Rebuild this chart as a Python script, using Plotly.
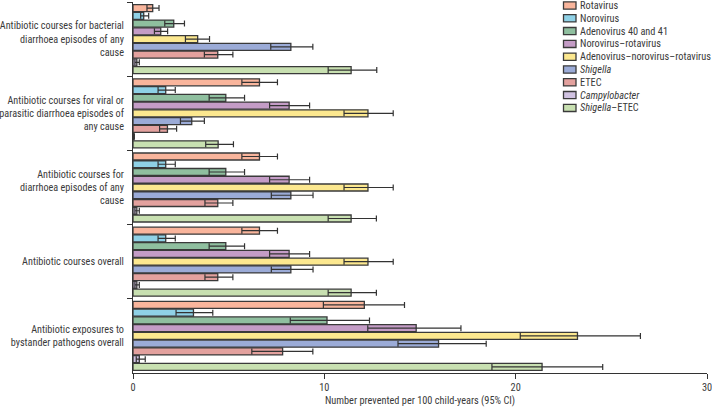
import plotly.graph_objects as go

# outcomes (top to bottom)
outcomes = [
    "Antibiotic courses for bacterial<br>diarrhoea episodes of any<br>cause",
    "Antibiotic courses for viral or<br>parasitic diarrhoea episodes of<br>any cause",
    "Antibiotic courses for<br>diarrhoea episodes of any<br>cause",
    "Antibiotic courses overall",
    "Antibiotic exposures to<br>bystander pathogens overall",
]

pathogens = [
    "Rotavirus", "Norovirus", "Adenovirus 40 and 41", "Norovirus–rotavirus",
    "Adenovirus–norovirus–rotavirus", "<i>Shigella</i>", "ETEC",
    "<i>Campylobacter</i>", "<i>Shigella</i>–ETEC",
]

colors = ["#f9b59c", "#8fd1e6", "#8fbf9f", "#c49cc6", "#fce88f",
          "#9babd7", "#e3a19e", "#d0c2e1", "#c8e0b1"]

# point estimates per pathogen, one value per outcome
est = {
    "Rotavirus":      [1.03, 6.61, 6.61, 6.61, 12.09],
    "Norovirus":      [0.56, 1.71, 1.71, 1.71, 3.16],
    "Adeno":          [2.13, 4.85, 4.85, 4.85, 10.14],
    "NoroRota":       [1.45, 8.16, 8.16, 8.16, 14.80],
    "AdenoNoroRota":  [3.38, 12.28, 12.28, 12.28, 23.23],
    "Shigella":       [8.25, 3.07, 8.25, 8.25, 15.97],
    "ETEC":           [4.43, 1.80, 4.43, 4.43, 7.82],
    "Campylobacter":  [0.20, 0.05, 0.20, 0.20, 0.33],
    "ShigellaETEC":   [11.40, 4.45, 11.40, 11.40, 21.38],
}
lower = {
    "Rotavirus":      [0.73, 5.69, 5.69, 5.69, 9.95],
    "Norovirus":      [0.40, 1.31, 1.31, 1.31, 2.25],
    "Adeno":          [1.66, 3.98, 3.98, 3.98, 8.22],
    "NoroRota":       [1.12, 7.14, 7.14, 7.14, 12.27],
    "AdenoNoroRota":  [2.74, 11.03, 11.03, 11.03, 20.24],
    "Shigella":       [7.20, 2.48, 7.23, 7.23, 13.85],
    "ETEC":           [3.73, 1.39, 3.76, 3.76, 6.21],
    "Campylobacter":  [0.10, 0.03, 0.10, 0.10, 0.17],
    "ShigellaETEC":   [10.20, 3.80, 10.20, 10.20, 18.76],
}
upper = {
    "Rotavirus":      [1.36, 7.55, 7.55, 7.55, 14.19],
    "Norovirus":      [0.82, 2.21, 2.21, 2.21, 4.17],
    "Adeno":          [2.69, 5.83, 5.83, 5.83, 12.36],
    "NoroRota":       [1.81, 9.23, 9.23, 9.23, 17.14],
    "AdenoNoroRota":  [4.00, 13.60, 13.60, 13.60, 26.52],
    "Shigella":       [9.40, 3.73, 9.41, 9.41, 18.46],
    "ETEC":           [5.22, 2.28, 5.22, 5.22, 9.40],
    "Campylobacter":  [0.33, 0.07, 0.33, 0.33, 0.64],
    "ShigellaETEC":   [12.74, 5.25, 12.72, 12.72, 24.55],
}

FONT = "Liberation Sans Narrow, Arial Narrow, Roboto Condensed, sans-serif"
W, H = 712, 409
ML, MR, MT, MB = 133, 5, 2, 36
PW, PH = W - ML - MR, H - MT - MB


def px(x):  # page px -> paper x
    return (x - ML) / PW


def py(y):  # page px -> paper y
    return 1 - (y - MT) / PH


fig = go.Figure()
for name, key, col in zip(pathogens, est.keys(), colors):
    v = est[key]
    fig.add_trace(go.Bar(
        y=outcomes,
        x=v,
        name=name,
        orientation="h",
        marker=dict(color=col, line=dict(color="#3a3a3a", width=1.3)),
        error_x=dict(
            type="data", symmetric=False,
            array=[u - e for u, e in zip(upper[key], v)],
            arrayminus=[e - l for e, l in zip(v, lower[key])],
            color="#333333", thickness=1.2, width=3,
        ),
        showlegend=False,
    ))

# hand-drawn legend (compact, top right)
shapes = []
annotations = []
for i, (name, col) in enumerate(zip(pathogens, colors)):
    cy = 5.5 + i * 12.8
    shapes.append(dict(
        type="rect", xref="paper", yref="paper",
        x0=px(563.5), x1=px(576),
        y0=py(cy + 3.6), y1=py(cy - 3.6),
        fillcolor=col, line=dict(color="#3a3a3a", width=1.3),
    ))
    annotations.append(dict(
        text=name, xref="paper", yref="paper",
        x=px(578), y=py(cy),
        xanchor="left", yanchor="middle", showarrow=False,
        font=dict(size=10.3, color="#3a3a3a"),
    ))

fig.update_layout(
    width=W, height=H,
    margin=dict(l=ML, r=MR, t=MT, b=MB, autoexpand=False),
    barmode="group",
    bargap=0.06,
    bargroupgap=0.1,
    plot_bgcolor="white",
    paper_bgcolor="white",
    font=dict(family=FONT, size=10.3, color="#3a3a3a"),
    showlegend=False,
    shapes=shapes,
    annotations=annotations,
    xaxis=dict(
        range=[0, 30], tickvals=[0, 10, 20, 30],
        showline=True, linecolor="#333", linewidth=1,
        ticks="outside", ticklen=5, tickcolor="#333",
        showgrid=False, zeroline=False, automargin=False,
        tickfont=dict(size=10.3), ticklabeloverflow="allow",
        title=dict(text="Number prevented per 100 child-years (95% CI)",
                   font=dict(size=10.3), standoff=2),
    ),
    yaxis=dict(
        autorange="reversed", automargin=False,
        showline=True, linecolor="#333", linewidth=1,
        ticks="outside", ticklen=5, tickcolor="#333",
        tickson="boundaries", showgrid=False,
        tickfont=dict(size=10.2),
        ticklabelstandoff=6,
    ),
)

# drop the page's default 8px body margin so the figure sits at the top-left
fig.write_html(
    "out.html",
    config={"displayModeBar": False},
    post_script="document.body.style.margin='0';",
)
